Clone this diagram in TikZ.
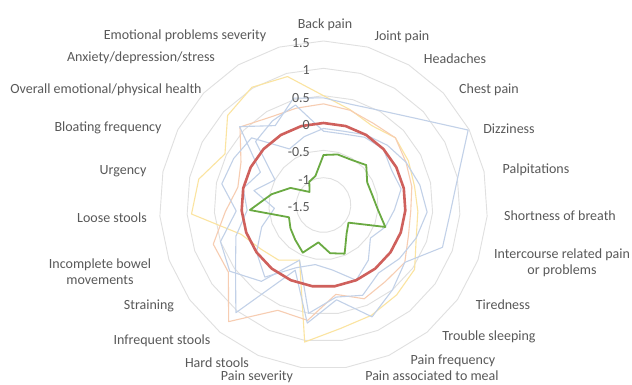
\documentclass[tikz,border=0pt]{standalone}
\usepackage{fontspec}
\setmainfont{Carlito}
\definecolor{txt}{HTML}{595959}
\definecolor{gridc}{HTML}{E0E0E0}
\definecolor{redl}{HTML}{CF605C}
\definecolor{greenl}{HTML}{6AAA42}
\definecolor{bluel}{HTML}{C2D1E8}
\definecolor{peach}{HTML}{F7CDB2}
\definecolor{yell}{HTML}{FBE4A0}
\newcommand\radarpoly[3]{%
  \foreach \v [count=\i from 0] in {#3} {\coordinate (#1\i) at ({90-\i*360/23}:{(\v+1.5)*54.67});}
  \draw[#2] (#10) \foreach \i in {1,...,22}{-- (#1\i)} -- cycle;}
\begin{document}
\begin{tikzpicture}[x=1pt,y=-1pt,
  lab/.style={text=txt,font=\fontsize{14}{16}\selectfont,inner sep=0pt,align=center},
  ticklab/.style={lab,anchor=east},
  gridline/.style={gridc,line width=0.9pt},
  faint/.style={line width=1.1pt,line join=round},
  zeroline/.style={redl,line width=2.6pt,line join=round},
  mainline/.style={greenl,line width=1.8pt,line join=round}]
\useasboundingbox (0,0) rectangle (632,384);
\fill[white] (0,0) rectangle (632,384);
\begin{scope}[shift={(323.5,205)},y=1pt]
  \foreach \g in {-1,-0.5,0.5,1,1.5} {
    \draw[gridline] (90:{(\g+1.5)*54.67}) \foreach \i in {1,...,22}{-- ({90-\i*360/23}:{(\g+1.5)*54.67})} -- cycle;}
  \radarpoly{y}{faint,yell}{0.5,0.31,0.2,0.3,0.25,0.2,0.23,0.3,0.54,0.62,0.7,0.78,1.03,-0.4,-0.2,-0.1,0.1,0.92,0.83,0.53,0.9,1.02,0.94}
  \radarpoly{o}{faint,peach}{0.35,0.3,0.25,0.3,0.2,0.15,0.1,0.15,0.32,0.3,0.37,0.15,0.63,0.6,1.25,0.63,0.64,0.3,0.1,0.2,0.59,0.38,0.34}
  \radarpoly{c}{faint,bluel}{-0.1,-0.1,0.0,0.1,0.2,0.3,0.4,0.3,0.2,0.1,0.3,0.2,0.5,-0.4,0.3,0.6,0.5,0.1,0.4,0.35,0.3,-0.3,-0.2}
  \radarpoly{b}{faint,bluel}{-0.15,-0.15,-0.05,0.0,-0.1,-0.05,-0.2,-0.3,-0.45,-0.2,0.0,-0.3,-0.4,-0.25,0.2,0.0,-0.3,-0.6,-0.2,-0.5,0.2,0.3,0.4}
  \radarpoly{a}{faint,bluel}{0.46,0.41,0.52,0.82,1.48,1.01,0.82,0.81,0.32,0.5,0.73,0.25,0.68,-0.2,1.04,0.47,0.2,-0.1,0.0,-0.2,0.6,0.2,0.53}
  \radarpoly{r}{zeroline}{0,0,0,0,0,0,0,0,0,0,0,0,0,0,0,0,0,0,0,0,0,0,0}
  \radarpoly{g}{mainline}{-0.585,-0.54,-0.53,-0.43,-0.6,-0.59,-0.51,-0.30,-0.94,-0.83,-0.53,-0.61,-0.81,-0.55,-0.68,-0.76,-0.83,-0.15,-0.53,-0.82,-1.15,-1.0,-0.95}
\end{scope}
% tick labels
\node[ticklab] (t1) at (310,43) {1.5};
\node[ticklab] (t2) at (310,70) {1};
\node[ticklab] (t3) at (310,98) {0.5};
\node[ticklab] (t4) at (310,125) {0};
\node[ticklab] (t5) at (310,152) {-0.5};
\node[ticklab] (t6) at (310,180) {-1};
\node[ticklab] (t7) at (310,207) {-1.5};
% category labels
\node[lab] (l0) at (325,25) {Back pain};
\node[lab] (l1) at (402,37) {Joint pain};
\node[lab] (l2) at (455,59) {Headaches};
\node[lab] (l3) at (489,90) {Chest pain};
\node[lab] (l4) at (509,129) {Dizziness};
\node[lab] (l5) at (536,170) {Palpitations};
\node[lab] (l6) at (560,216) {Shortness of breath};
\node[lab] (l7) at (562,263) {Intercourse related pain\\or problems};
\node[lab] (l8) at (503,305) {Tiredness};
\node[lab] (l9) at (489,337) {Trouble sleeping};
\node[lab] (l10) at (453,361) {Pain frequency};
\node[lab] (l11) at (432,376) {Pain associated to meal};
\node[lab] (l12) at (257,377) {Pain severity};
\node[lab] (l13) at (217,363) {Hard stools};
\node[lab] (l14) at (162,341) {Infrequent stools};
\node[lab] (l15) at (149,306) {Straining};
\node[lab] (l16) at (100,272) {Incomplete bowel\\movements};
\node[lab] (l17) at (112,218) {Loose stools};
\node[lab] (l18) at (123,171) {Urgency};
\node[lab] (l19) at (108,128) {Bloating frequency};
\node[lab] (l20) at (106,90) {Overall emotional/physical health};
\node[lab] (l21) at (141,58) {Anxiety/depression/stress};
\node[lab] (l22) at (185,36) {Emotional problems severity};
\end{tikzpicture}
\end{document}
